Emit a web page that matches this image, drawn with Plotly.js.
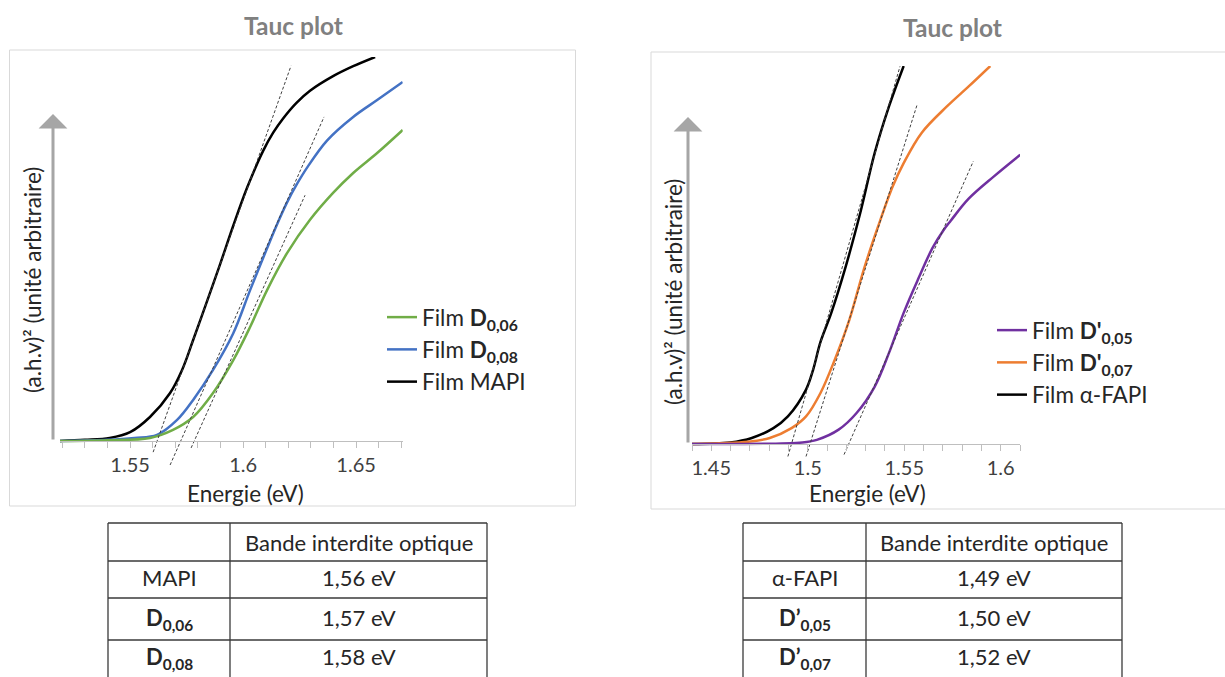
<!DOCTYPE html>
<html>
<head>
<meta charset="utf-8">
<script src="https://cdn.plot.ly/plotly-3.0.1.min.js"></script>
<style>html,body{margin:0;padding:0;background:#fff;}#chart{width:1225px;height:677px;}</style>
</head>
<body>
<div id="chart"></div>
<script>
// ---------- Data: left Tauc plot ----------
const energyMAPI = [1.519, 1.530, 1.541, 1.550, 1.5588, 1.5677, 1.573, 1.5779, 1.5841, 1.5898, 1.5956, 1.6018, 1.6088, 1.6133, 1.6177, 1.6235, 1.6296, 1.6398, 1.6487, 1.6584];
const taucMAPI   = [0, 0.3, 0.8, 2.3, 6.25, 12.5, 18.5, 26.3, 36.5, 46.0, 56.0, 66.0, 75.5, 80.3, 84.0, 88.0, 91.2, 95.0, 97.6, 100];
const energyD008 = [1.519, 1.540, 1.552, 1.5619, 1.5708, 1.5779, 1.5867, 1.5956, 1.6031, 1.6106, 1.6150, 1.6195, 1.6239, 1.6283, 1.6372, 1.6487, 1.6593, 1.6706];
const taucD008   = [0, 0.3, 0.8, 1.6, 5.5, 10.7, 18.5, 28, 39.3, 50.2, 56.4, 62.2, 67.0, 71.2, 78.3, 84.4, 88.8, 93.5];
const energyD006 = [1.519, 1.540, 1.5588, 1.569, 1.5779, 1.5867, 1.5956, 1.6031, 1.6106, 1.6195, 1.6296, 1.6398, 1.6487, 1.6593, 1.6706];
const taucD006   = [0, 0.2, 0.8, 2.9, 6.25, 12.5, 21, 29.7, 39.3, 49, 57.6, 64.6, 69.8, 75, 81];
// tangent lines (endpoints)
const tanMAPI_x = [1.5602, 1.6212], tanMAPI_y = [-2.9, 97.7];
const tanD008_x = [1.5677, 1.6358], tanD008_y = [-6.25, 84.4];
const tanD006_x = [1.577, 1.6274],  tanD006_y = [-1.8, 64];

// ---------- Data: right Tauc plot ----------
const energyFAPI = [1.44, 1.4598, 1.471, 1.4822, 1.4897, 1.4991, 1.5028, 1.5066, 1.5122, 1.5197, 1.5272, 1.5347, 1.5421, 1.5497];
const taucFAPI   = [0, 0.4, 1.6, 4.2, 7.3, 14.4, 19.7, 27.0, 34.7, 47, 61.1, 77, 89.3, 100];
const energyDp007 = [1.44, 1.4691, 1.4803, 1.4916, 1.4991, 1.5066, 1.514, 1.5216, 1.529, 1.5365, 1.544, 1.5497, 1.559, 1.5721, 1.5834, 1.5946];
const taucDp007   = [0, 0.6, 1.6, 4.2, 7.3, 13.5, 22.3, 32.9, 46.1, 57.6, 68.1, 74.3, 82.3, 89.3, 94.6, 100];
const energyDp005 = [1.44, 1.4972, 1.5047, 1.516, 1.5253, 1.5347, 1.5421, 1.5497, 1.5571, 1.5646, 1.5700, 1.574, 1.5834, 1.5965, 1.6101];
const taucDp005   = [0, 0.4, 1.1, 3.8, 8.2, 15.2, 24.1, 34.7, 43.5, 51.8, 56.3, 59.0, 64.9, 70.8, 76.5];
const tanFAPI_x  = [1.4897, 1.5478], tanFAPI_y  = [-3.3, 99.9];
const tanDp007_x = [1.4991, 1.5567], tanDp007_y = [-3.3, 89.8];
const tanDp005_x = [1.5188, 1.5858], tanDp005_y = [-2.8, 74.8];

// ---------- Text ----------
const chartTitle = 'Tauc plot';
const xTitle = 'Energie (eV)';
const yTitle = '(a.h.v)² (unité arbitraire)';
const namesLeft  = ['Film <b>D<sub>0,06</sub></b>', 'Film <b>D<sub>0,08</sub></b>', 'Film MAPI'];
const namesRight = ["Film <b>D'<sub>0,05</sub></b>", "Film <b>D'<sub>0,07</sub></b>", 'Film α-FAPI'];
const tableHeader = 'Bande interdite optique';
const tableL_rows = ['MAPI', '<b>D<sub>0,06</sub></b>', '<b>D<sub>0,08</sub></b>'];
const tableL_vals = ['1,56 eV', '1,57 eV', '1,58 eV'];
const tableR_rows = ['α-FAPI', '<b>D’<sub>0,05</sub></b>', '<b>D’<sub>0,07</sub></b>'];
const tableR_vals = ['1,49 eV', '1,50 eV', '1,52 eV'];

// ---------- Layout helpers ----------
const W = 1225, H = 677;
const fx = p => p / W;
const fy = p => 1 - p / H;
const FONT = 'Lato, "Open Sans", sans-serif';
const TXT = '#262626';
const LABEL = 22.5;

const cGreen = '#70ad47', cBlue = '#4472c4', cBlack = '#000000', cPurple = '#7030a0', cOrange = '#ed7d31';
const lw = 2.5;
const sm = 1.0;
const tanStyle = {color: '#404040', width: 1, dash: '3px,2px'};

const traces = [
  {x: energyMAPI, y: taucMAPI, xaxis: 'x', yaxis: 'y', mode: 'lines', line: {color: cBlack, width: lw, shape: 'spline', smoothing: sm}, name: namesLeft[2], legend: 'legend', legendrank: 3, legendgroup: 'a3'},
  {x: energyD008, y: taucD008, xaxis: 'x', yaxis: 'y', mode: 'lines', line: {color: cBlue, width: lw, shape: 'spline', smoothing: sm}, name: namesLeft[1], legend: 'legend', legendrank: 2, legendgroup: 'a2'},
  {x: energyD006, y: taucD006, xaxis: 'x', yaxis: 'y', mode: 'lines', line: {color: cGreen, width: lw, shape: 'spline', smoothing: sm}, name: namesLeft[0], legend: 'legend', legendrank: 1, legendgroup: 'a1'},
  {x: tanMAPI_x, y: tanMAPI_y, xaxis: 'x', yaxis: 'y', mode: 'lines', line: tanStyle, showlegend: false, hoverinfo: 'skip'},
  {x: tanD008_x, y: tanD008_y, xaxis: 'x', yaxis: 'y', mode: 'lines', line: tanStyle, showlegend: false, hoverinfo: 'skip'},
  {x: tanD006_x, y: tanD006_y, xaxis: 'x', yaxis: 'y', mode: 'lines', line: tanStyle, showlegend: false, hoverinfo: 'skip'},

  {x: energyFAPI, y: taucFAPI, xaxis: 'x2', yaxis: 'y2', mode: 'lines', line: {color: cBlack, width: lw, shape: 'spline', smoothing: sm}, name: namesRight[2], legend: 'legend2', legendrank: 3, legendgroup: 'b3'},
  {x: energyDp007, y: taucDp007, xaxis: 'x2', yaxis: 'y2', mode: 'lines', line: {color: cOrange, width: lw, shape: 'spline', smoothing: sm}, name: namesRight[1], legend: 'legend2', legendrank: 2, legendgroup: 'b2'},
  {x: energyDp005, y: taucDp005, xaxis: 'x2', yaxis: 'y2', mode: 'lines', line: {color: cPurple, width: lw, shape: 'spline', smoothing: sm}, name: namesRight[0], legend: 'legend2', legendrank: 1, legendgroup: 'b1'},
  {x: tanFAPI_x, y: tanFAPI_y, xaxis: 'x2', yaxis: 'y2', mode: 'lines', line: tanStyle, showlegend: false, hoverinfo: 'skip'},
  {x: tanDp007_x, y: tanDp007_y, xaxis: 'x2', yaxis: 'y2', mode: 'lines', line: tanStyle, showlegend: false, hoverinfo: 'skip'},
  {x: tanDp005_x, y: tanDp005_y, xaxis: 'x2', yaxis: 'y2', mode: 'lines', line: tanStyle, showlegend: false, hoverinfo: 'skip'}
];

function xAxisDef(domain, range, pos) {
  return {
    domain: domain, range: range, anchor: 'free', position: pos,
    showline: true, linecolor: '#bfbfbf', linewidth: 1,
    ticks: 'outside', ticklen: 6, tickcolor: '#bfbfbf', tickwidth: 1,
    tick0: 1.45, dtick: 0.05,
    minor: {dtick: 0.01, ticks: 'outside', ticklen: 6, tickcolor: '#bfbfbf', tickwidth: 1, showgrid: false},
    showgrid: false, zeroline: false,
    tickfont: {family: FONT, size: 20, color: '#404040'},
    title: {text: ''},
    fixedrange: true
  };
}
function yAxisDef(domain, range) {
  return {domain: domain, range: range, visible: false, showgrid: false, zeroline: false, fixedrange: true};
}

const shapes = [];
const annotations = [];
function txt(x, y, text, size, extra) {
  annotations.push(Object.assign({xref: 'paper', yref: 'paper', x: fx(x), y: fy(y), text: text, showarrow: false,
    xanchor: 'center', yanchor: 'middle', font: {family: FONT, size: size, color: TXT}}, extra || {}));
}

// chart frames
shapes.push({type: 'rect', xref: 'paper', yref: 'paper', x0: fx(9.5), x1: fx(575.5), y0: fy(506), y1: fy(50), line: {color: '#d9d9d9', width: 1}});
shapes.push({type: 'rect', xref: 'paper', yref: 'paper', x0: fx(651), x1: fx(1230), y0: fy(509), y1: fy(52), line: {color: '#d9d9d9', width: 1}});

// titles
txt(293, 25, '<b>' + chartTitle + '</b>', 24.5, {font: {family: FONT, size: 24.5, color: '#808080'}});
txt(952, 27, '<b>' + chartTitle + '</b>', 24.5, {font: {family: FONT, size: 24.5, color: '#808080'}});

// x titles
txt(245, 493, xTitle, LABEL);
txt(867, 493, xTitle, LABEL);

// y titles
txt(32, 280, yTitle, LABEL, {textangle: -90});
txt(673, 292, yTitle, LABEL, {textangle: -90});

// gray arrows (y axes)
annotations.push({xref: 'paper', yref: 'paper', x: fx(53), y: fy(114), ax: 0, ay: 327, text: '', showarrow: true, arrowhead: 1, arrowsize: 1.6, arrowwidth: 3, arrowcolor: '#a6a6a6', standoff: 0, startstandoff: 0});
annotations.push({xref: 'paper', yref: 'paper', x: fx(688), y: fy(117), ax: 0, ay: 327, text: '', showarrow: true, arrowhead: 1, arrowsize: 1.6, arrowwidth: 3, arrowcolor: '#a6a6a6', standoff: 0, startstandoff: 0});

// tables
function addTable(xEdges, rows, vals) {
  const yEdges = [523, 561, 598, 640];
  const lc = {color: '#3a3a3a', width: 1.3};
  yEdges.forEach(y => shapes.push({type: 'line', xref: 'paper', yref: 'paper', x0: fx(xEdges[0]), x1: fx(xEdges[2]), y0: fy(y), y1: fy(y), line: lc}));
  xEdges.forEach(x => shapes.push({type: 'line', xref: 'paper', yref: 'paper', x0: fx(x), x1: fx(x), y0: fy(yEdges[0]), y1: fy(700), line: lc}));
  const c1 = (xEdges[0] + xEdges[1]) / 2, c2 = (xEdges[1] + xEdges[2]) / 2;
  txt(c2, 542, tableHeader, 22);
  const rowY = [577, 617, 656];
  rows.forEach((r, i) => {
    const hasSub = r.indexOf('<sub>') >= 0;
    txt(c1, rowY[i] + (hasSub ? 2 : 0), r, 22);
    txt(c2, rowY[i], vals[i], 22);
  });
}
addTable([108, 230, 487], tableL_rows, tableL_vals);
addTable([743, 866, 1122], tableR_rows, tableR_vals);

const legendStyle = {bgcolor: 'rgba(0,0,0,0)', borderwidth: 0, font: {family: FONT, size: LABEL, color: TXT}, traceorder: 'grouped', tracegroupgap: 0, itemwidth: 30, xanchor: 'left', yanchor: 'top'};

const layout = {
  width: W, height: H, autosize: false,
  margin: {l: 0, r: 0, t: 0, b: 0, pad: 0},
  paper_bgcolor: '#ffffff', plot_bgcolor: 'rgba(0,0,0,0)',
  font: {family: FONT, color: TXT},
  showlegend: true,
  xaxis: xAxisDef([fx(60), fx(402.7)], [1.519, 1.6706], fy(441)),
  yaxis: yAxisDef([fy(470), fy(57)], [-7.55, 100]),
  xaxis2: xAxisDef([fx(692), fx(1020)], [1.44, 1.61], fy(444)),
  yaxis2: yAxisDef([fy(462), fy(66)], [-4.76, 100]),
  legend: Object.assign({}, legendStyle, {x: fx(382), y: fy(296)}),
  legend2: Object.assign({}, legendStyle, {x: fx(992), y: fy(309)}),
  shapes: shapes,
  annotations: annotations
};

Plotly.newPlot('chart', traces, layout, {displayModeBar: false, staticPlot: true});
</script>
</body>
</html>
